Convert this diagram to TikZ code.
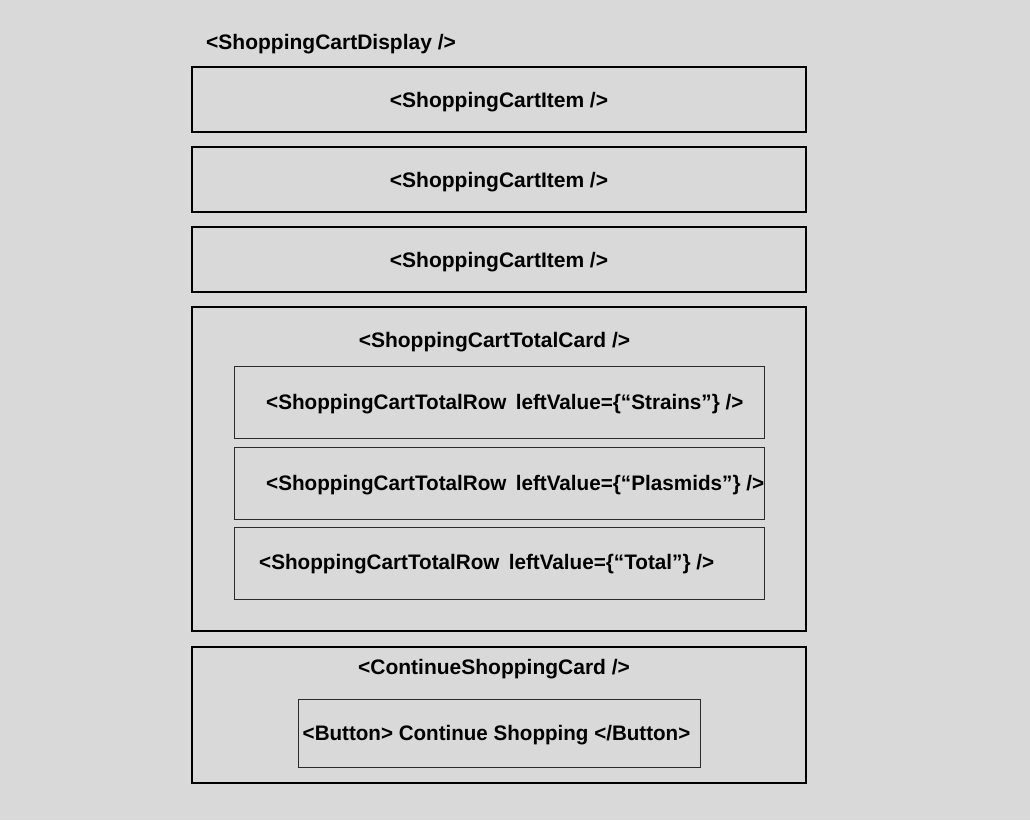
\documentclass[tikz,border=0pt]{standalone}
\usepackage{fontspec}
\setmainfont{Liberation Sans}
\definecolor{bg}{HTML}{D9D9D9}
\definecolor{thin}{HTML}{2A2A2A}
\newcommand{\gapx}{\ \hspace{3.5pt}}
\begin{document}
\begin{tikzpicture}[x=1pt,y=-1pt,
  card/.style={draw=black,line width=2.6pt},
  rowbox/.style={draw=thin,line width=1pt},
  lbl/.style={font=\fontsize{21}{25}\selectfont\bfseries,inner sep=0pt,text=black,yshift=-2.5pt}]
\fill[bg] (0,0) rectangle (1030,820);
\useasboundingbox (0,0) rectangle (1030,820);
% title
\node[lbl,anchor=west] (title) at (206,42) {<ShoppingCartDisplay />};
% items
\draw[card] (192,67) rectangle (806,132) node[midway,lbl] (item1) {<ShoppingCartItem />};
\draw[card] (192,147) rectangle (806,212) node[midway,lbl] (item2) {<ShoppingCartItem />};
\draw[card] (192,227) rectangle (806,292) node[midway,lbl] (item3) {<ShoppingCartItem />};
% total card
\draw[card] (192,307) rectangle (806,631);
\node[lbl] (totalcard) at (494.5,340) {<ShoppingCartTotalCard />};
\draw[rowbox] (234,366) rectangle (764,438);
\node[lbl,anchor=west] (row1) at (266,402) {\scalebox{0.985}[1]{<ShoppingCartTotalRow\gapx leftValue=\{“Strains”\} />}};
\draw[rowbox] (234,447) rectangle (764,519);
\node[lbl,anchor=west] (row2) at (266,483) {\scalebox{0.985}[1]{<ShoppingCartTotalRow\gapx leftValue=\{“Plasmids”\} />}};
\draw[rowbox] (234,527) rectangle (764,599);
\node[lbl,anchor=west] (row3) at (259,562) {\scalebox{0.985}[1]{<ShoppingCartTotalRow\gapx leftValue=\{“Total”\} />}};
% continue card
\draw[card] (192,647) rectangle (806,783);
\node[lbl] (contcard) at (494,667) {<ContinueShoppingCard />};
\draw[rowbox] (298,699) rectangle (700,767);
\node[lbl] (button) at (496.5,733) {\scalebox{0.98}[1]{<Button> Continue Shopping </Button>}};
\end{tikzpicture}
\end{document}
